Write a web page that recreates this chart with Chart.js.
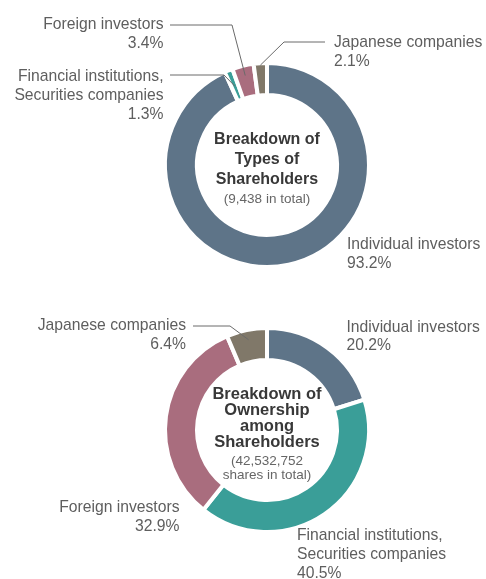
<!DOCTYPE html>
<html>
<head>
<meta charset="utf-8">
<script src="https://cdn.jsdelivr.net/npm/chart.js@4/dist/chart.umd.min.js"></script>
<style>
  html, body { margin: 0; padding: 0; background: #fff; }
  #wrap { position: relative; width: 486px; height: 579px; overflow: hidden; }
  .box { position: absolute; left: 0; width: 486px; }
</style>
</head>
<body>
<div id="wrap">
  <div class="box" style="top:0;height:290px"><canvas id="types"></canvas></div>
  <div class="box" style="top:290px;height:289px"><canvas id="ownership"></canvas></div>
</div>
<script>
// Shareholder categories, in clockwise order from 12 o'clock
const categories = [
  'Individual investors',
  'Financial institutions, Securities companies',
  'Foreign investors',
  'Japanese companies'
];
// How each category name is broken over lines in its label
const categoryLines = [
  ['Individual investors'],
  ['Financial institutions,', 'Securities companies'],
  ['Foreign investors'],
  ['Japanese companies']
];
// Share of shareholders by type (%)
const typesShare = [93.2, 1.3, 3.4, 2.1];
// Share of ownership by type (%)
const ownershipShare = [20.2, 40.5, 32.9, 6.4];

const typesTitle = ['Breakdown of', 'Types of', 'Shareholders'];
const typesNote = ['(9,438 in total)'];
const ownershipTitle = ['Breakdown of', 'Ownership', 'among', 'Shareholders'];
const ownershipNote = ['(42,532,752', 'shares in total)'];

const sliceColors = ['#5e7488', '#3a9e98', '#a96d7e', '#807869'];
const FONT = "'Liberation Sans', Arial, Helvetica, sans-serif";
const LABEL_COLOR = '#5e5e5e';

// Label placement per category: anchor, alignment, optional leader line
// (two fixed points, then on to the slice at a fraction of the ring depth)
const typesLabels = [
  { x: 347, y: 245, align: 'left' },
  { x: 163.5, y: 76.5, align: 'right', leader: [[170, 75], [224, 75]], depth: 0.47 },
  { x: 163.5, y: 25, align: 'right', leader: [[170, 25], [232, 25]], depth: 0.69 },
  { x: 334, y: 43, align: 'left', leader: [[325, 42], [284, 42]], depth: 0.94 }
];
const ownershipLabels = [
  { x: 346.5, y: 37.3, align: 'left' },
  { x: 297, y: 245.7, align: 'left' },
  { x: 179.5, y: 217.7, align: 'right' },
  { x: 186, y: 35.7, align: 'right', leader: [[193, 36], [230, 36]], depth: 0.69 }
];

const labelPlugin = {
  id: 'sliceLabels',
  afterDatasetsDraw(chart, args, opts) {
    const ctx = chart.ctx;
    const meta = chart.getDatasetMeta(0);
    const values = chart.data.datasets[0].data;
    ctx.save();
    // leader lines
    ctx.strokeStyle = '#6a6a6a';
    ctx.lineWidth = 1;
    opts.labels.forEach((lab, i) => {
      if (!lab.leader) return;
      const arc = meta.data[i];
      const p = arc.getProps(['x', 'y', 'startAngle', 'endAngle', 'innerRadius', 'outerRadius'], true);
      const a = (p.startAngle + p.endAngle) / 2;
      const r = p.innerRadius + lab.depth * (p.outerRadius - p.innerRadius);
      ctx.beginPath();
      ctx.moveTo(lab.leader[0][0], lab.leader[0][1]);
      ctx.lineTo(lab.leader[1][0], lab.leader[1][1]);
      ctx.lineTo(p.x + Math.cos(a) * r, p.y + Math.sin(a) * r);
      ctx.stroke();
    });
    // category names and values
    ctx.fillStyle = LABEL_COLOR;
    ctx.font = '15.7px ' + FONT;
    ctx.textBaseline = 'middle';
    opts.labels.forEach((lab, i) => {
      ctx.textAlign = lab.align;
      const lines = categoryLines[i].concat([values[i].toFixed(1) + '%']);
      lines.forEach((t, k) => ctx.fillText(t, lab.x, lab.y + k * opts.lineGap));
    });
    // centre caption
    const c = meta.data[0];
    ctx.textAlign = 'center';
    ctx.fillStyle = '#383838';
    ctx.font = 'bold ' + opts.titleSize + 'px ' + FONT;
    opts.title.forEach((t, k) => ctx.fillText(t, c.x, opts.titleY + k * opts.titleGap));
    ctx.fillStyle = '#666';
    ctx.font = '13.5px ' + FONT;
    opts.note.forEach((t, k) => ctx.fillText(t, c.x, opts.noteY + k * opts.noteGap));
    ctx.restore();
  }
};

function makeDoughnut(id, values, padding, pluginOpts) {
  return new Chart(document.getElementById(id), {
    type: 'doughnut',
    data: {
      labels: categories,
      datasets: [{
        data: values,
        backgroundColor: sliceColors,
        borderColor: '#ffffff',
        borderWidth: 4,
        hoverOffset: 0
      }]
    },
    options: {
      responsive: true,
      maintainAspectRatio: false,
      animation: false,
      cutout: '68.6%',
      layout: { padding },
      events: [],
      plugins: {
        legend: { display: false },
        tooltip: { enabled: false },
        sliceLabels: pluginOpts
      }
    },
    plugins: [labelPlugin]
  });
}

makeDoughnut('types', typesShare,
  { left: 163, right: 115, top: 61, bottom: 21 },
  { labels: typesLabels, lineGap: 19, title: typesTitle, titleSize: 16, titleY: 140, titleGap: 20,
    note: typesNote, noteY: 199, noteGap: 15 });

makeDoughnut('ownership', ownershipShare,
  { left: 163, right: 115, top: 36, bottom: 45 },
  { labels: ownershipLabels, lineGap: 18.8, title: ownershipTitle, titleSize: 16.5, titleY: 104.3, titleGap: 16,
    note: ownershipNote, noteY: 171, noteGap: 14.7 });
</script>
</body>
</html>
